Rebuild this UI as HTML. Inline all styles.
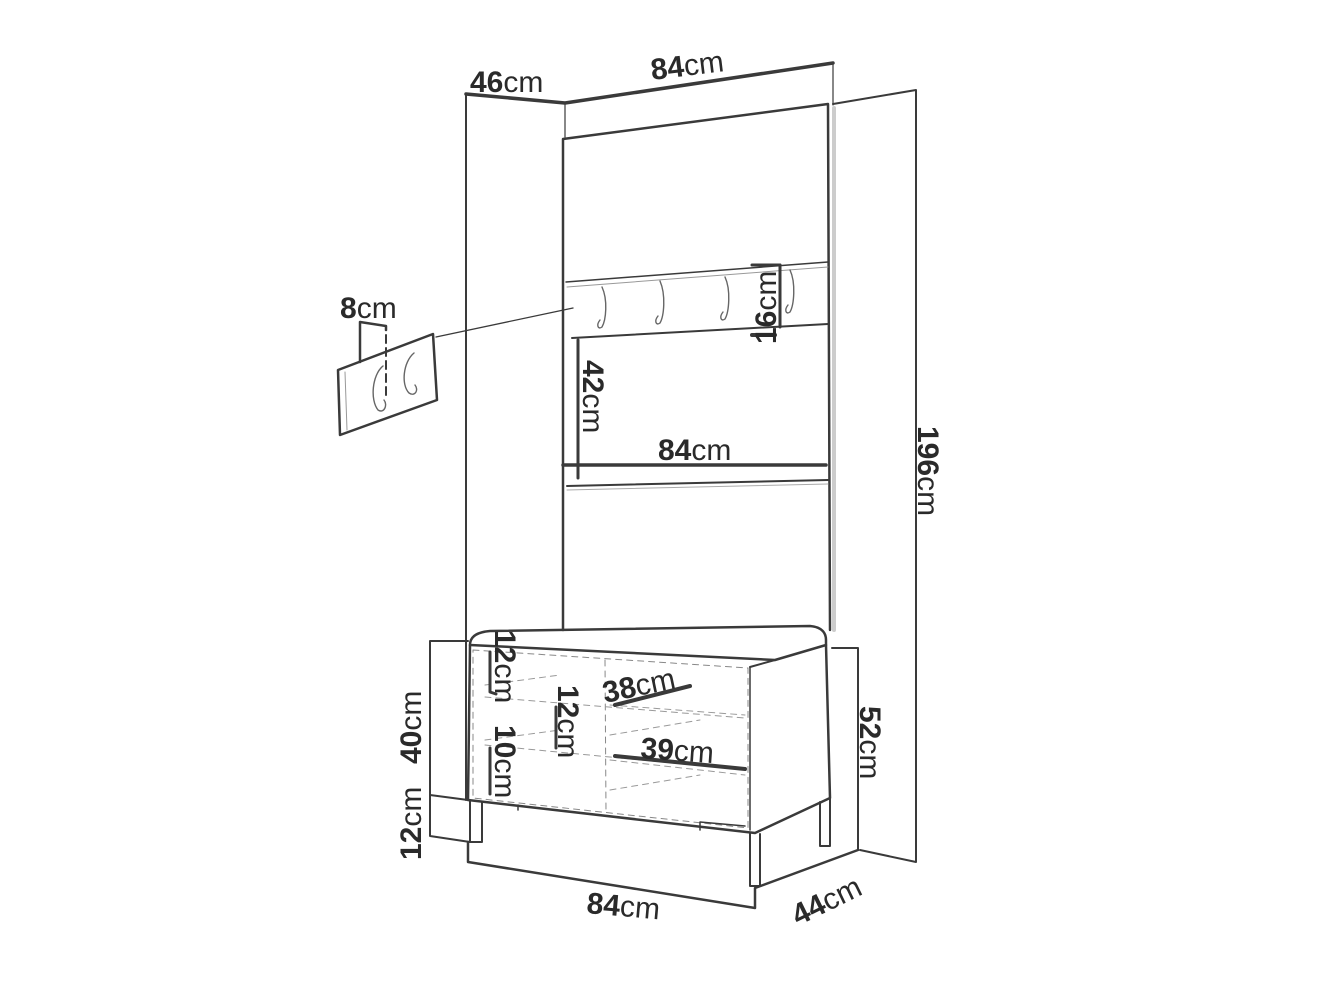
<!DOCTYPE html>
<html><head><style>
html,body{margin:0;padding:0;background:#fff;}
svg{display:block;}
text{font-family:"Liberation Sans",sans-serif;fill:#2a2a2a;font-size:30px;}
.b{font-weight:bold;}
</style></head><body>
<svg width="1320" height="990" viewBox="0 0 1320 990" xmlns="http://www.w3.org/2000/svg">
<g fill="none" stroke="#3a3a3a" stroke-linecap="round" stroke-linejoin="round">
<path d="M466 94 L565 103 L833 63" stroke-width="3.5"/>
<line x1="466" y1="94" x2="466" y2="800" stroke-width="2"/>
<line x1="565" y1="103" x2="565" y2="137" stroke-width="1.2"/>
<line x1="833" y1="63" x2="833" y2="105" stroke-width="1.2"/>
<path d="M833 104 L916 90 L916 862 L860 850" stroke-width="2"/>
<path d="M563 630 L563 139 L828 104 L830 630" stroke-width="2.5"/>
<line x1="834" y1="108" x2="834" y2="630" stroke="#ccc" stroke-width="4"/>
<path d="M566 282 L828 262" stroke-width="1.5"/>
<path d="M567 287 L828 267" stroke="#999" stroke-width="1"/>
<path d="M572 338 L828 324" stroke-width="2"/>
<line x1="780" y1="265" x2="780" y2="327" stroke-width="3"/>
<line x1="752" y1="335" x2="775" y2="335" stroke-width="4"/>
<line x1="752" y1="265" x2="780" y2="265" stroke-width="3"/>
<g stroke="#666" stroke-width="1.4">
<path d="M602 287 C608 300 606 320 602 327 C598 330 596 325 600 320"/>
<path d="M660 281 C666 295 664 316 660 323 C656 326 654 321 658 316"/>
<path d="M725 277 C731 290 729 312 725 319 C721 322 719 317 723 312"/>
<path d="M790 270 C796 283 794 305 790 312 C786 315 784 310 788 305"/>
</g>
<line x1="578" y1="340" x2="578" y2="478" stroke-width="3"/>
<line x1="563" y1="465" x2="826" y2="465" stroke-width="3.5"/>
<path d="M567 486 L828 480" stroke-width="2"/>
<path d="M567 490 L828 484" stroke="#aaa" stroke-width="1"/>
<line x1="436" y1="337" x2="573" y2="308" stroke-width="1.3"/>
<path d="M338 370 L433 334 L437 400 L340 435 Z" stroke-width="2.5"/>
<path d="M345 372 L347 430" stroke="#999" stroke-width="1"/>
<path d="M360 362 L360 322 L386 326 L386 330" stroke-width="2.5"/>
<line x1="386" y1="335" x2="386" y2="395" stroke-width="2" stroke-dasharray="8 5"/>
<g stroke="#666" stroke-width="1.4">
<path d="M383 366 C372 375 370 400 378 410 C384 414 388 405 384 400"/>
<path d="M414 353 C403 362 401 385 409 393 C415 397 419 390 415 385"/>
</g>
<path d="M470 645 C470 636 478 632 490 631 L810 626 C822 627 826 633 826 640 L826 645 L775 660 L470 645" stroke-width="2.5"/>
<path d="M470 645 L468 800" stroke-width="2.5"/>
<path d="M775 660 L750 667" stroke-width="2"/>
<path d="M750 667 L750 830" stroke-width="1.5"/>
<path d="M826 645 L830 798 L755 833 L468 800" stroke-width="2.5"/>
<path d="M473 650 L748 668 L748 828 L473 798 Z" stroke="#888" stroke-width="1" stroke-dasharray="6 5"/>
<path d="M605 660 L606 813" stroke="#888" stroke-width="1" stroke-dasharray="6 5"/>
<path d="M485 697 L745 718 M485 745 L745 770 M610 705 L745 715 M610 760 L745 775 M485 685 L560 675 M485 740 L560 730 M610 735 L700 720 M610 790 L700 775" stroke="#999" stroke-width="1" stroke-dasharray="6 5"/>
<path d="M470 800 L470 842 L482 842 L482 802" stroke-width="2"/>
<path d="M750 833 L750 886 L760 886 L760 834" stroke-width="2"/>
<path d="M820 802 L820 846 L830 846 L830 798" stroke-width="2"/>
<path d="M700 830 L700 822 L745 826 M518 805 L518 810" stroke-width="1.5"/>
<path d="M490 652 L490 692 L496 694" stroke-width="3"/>
<path d="M490 748 L490 794" stroke-width="3"/>
<path d="M556 707 L556 748" stroke-width="3"/>
<line x1="615" y1="705" x2="690" y2="686" stroke-width="4"/>
<line x1="615" y1="756" x2="745" y2="769" stroke-width="4"/>
<path d="M468 641 L430 641 L430 836 L470 842" stroke-width="2"/>
<line x1="430" y1="795" x2="468" y2="800" stroke-width="2"/>
<path d="M832 648 L858 648 L858 850" stroke-width="2"/>
<path d="M468 842 L468 862 L755 908 L755 888 L858 850" stroke-width="2.5"/>
</g>
<text x="470" y="92"><tspan class="b">46</tspan>cm</text>
<text x="652" y="80" transform="rotate(-7 652 80)"><tspan class="b">84</tspan>cm</text>
<text x="340" y="318"><tspan class="b">8</tspan>cm</text>
<text transform="translate(918 426) rotate(90)"><tspan class="b">196</tspan>cm</text>
<text transform="translate(776 344) rotate(-90)"><tspan class="b">16</tspan>cm</text>
<text transform="translate(583 360) rotate(90)"><tspan class="b">42</tspan>cm</text>
<text x="658" y="460"><tspan class="b">84</tspan>cm</text>
<text transform="translate(860 706) rotate(90)"><tspan class="b">52</tspan>cm</text>
<text transform="translate(421 764) rotate(-90)"><tspan class="b">40</tspan>cm</text>
<text transform="translate(421 860) rotate(-90)"><tspan class="b">12</tspan>cm</text>
<text transform="translate(495 630) rotate(90)"><tspan class="b">12</tspan>cm</text>
<text transform="translate(495 725) rotate(90)"><tspan class="b">10</tspan>cm</text>
<text transform="translate(558 685) rotate(90)"><tspan class="b">12</tspan>cm</text>
<text x="605" y="703" transform="rotate(-12 605 703)"><tspan class="b">38</tspan>cm</text>
<text x="640" y="758" transform="rotate(4 640 758)"><tspan class="b">39</tspan>cm</text>
<text x="586" y="913" transform="rotate(5 586 913)"><tspan class="b">84</tspan>cm</text>
<text x="798" y="926" transform="rotate(-26 798 926)"><tspan class="b">44</tspan>cm</text>
</svg>
</body></html>
